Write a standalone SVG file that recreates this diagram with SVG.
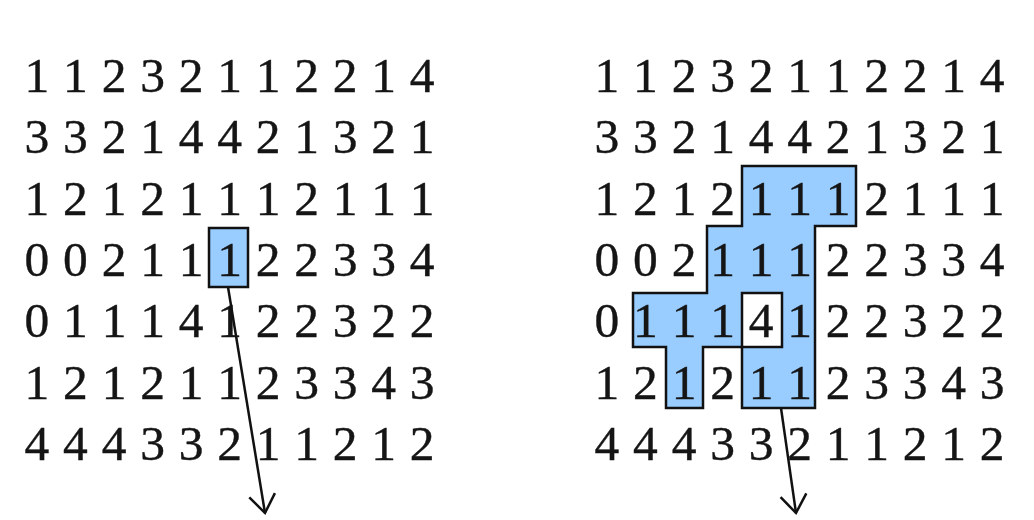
<svg xmlns="http://www.w3.org/2000/svg" width="1034" height="520" viewBox="0 0 1034 520">
<style>
.g{font-family:"Liberation Serif","Times New Roman",serif;font-size:49.5px;letter-spacing:0.7px;fill:#151515;stroke:#151515;stroke-width:0.4px}
.hl{fill:#99ccff;stroke:#111;stroke-width:2.5;stroke-linejoin:miter}
.hole{fill:#fff;stroke:#111;stroke-width:2.5}
.c{stroke:#111;stroke-width:2.5;fill:none}
</style>
<defs>
<marker id="arr" viewBox="-22 -15 24 30" refX="0" refY="0" markerWidth="24" markerHeight="30" orient="auto" markerUnits="userSpaceOnUse">
<path d="M-18,-13 L0,0 L-18,13" fill="none" stroke="#111" stroke-width="2.5"/>
</marker>
</defs>
<rect width="1034" height="520" fill="#fff"/>
<g id="left-grid">
<rect class="hl" x="209" y="228" width="39" height="59"/>
<text class="g" x="24.6" y="92">1 1 2 3 2 1 1 2 2 1 4</text>
<text class="g" x="24.6" y="153">3 3 2 1 4 4 2 1 3 2 1</text>
<text class="g" x="24.6" y="215">1 2 1 2 1 1 1 2 1 1 1</text>
<text class="g" x="24.6" y="276">0 0 2 1 1 1 2 2 3 3 4</text>
<text class="g" x="24.6" y="337">0 1 1 1 4 1 2 2 3 2 2</text>
<text class="g" x="24.6" y="399">1 2 1 2 1 1 2 3 3 4 3</text>
<text class="g" x="24.6" y="460">4 4 4 3 3 2 1 1 2 1 2</text>
</g>
<g id="right-grid">
<path class="hl" d="M742,166 L856,166 L856,226 L815,226 L815,408 L742,408 L742,347 L703,347 L703,408 L666,408 L666,347 L633,347 L633,293 L707,293 L707,226 L742,226 Z"/>
<rect class="hole" x="742" y="293" width="40" height="54"/>
<text class="g" x="594.6" y="92">1 1 2 3 2 1 1 2 2 1 4</text>
<text class="g" x="594.6" y="153">3 3 2 1 4 4 2 1 3 2 1</text>
<text class="g" x="594.6" y="215">1 2 1 2 1 1 1 2 1 1 1</text>
<text class="g" x="594.6" y="276">0 0 2 1 1 1 2 2 3 3 4</text>
<text class="g" x="594.6" y="337">0 1 1 1 4 1 2 2 3 2 2</text>
<text class="g" x="594.6" y="399">1 2 1 2 1 1 2 3 3 4 3</text>
<text class="g" x="594.6" y="460">4 4 4 3 3 2 1 1 2 1 2</text>
</g>
<g id="connectors">
<line class="c" x1="228" y1="287" x2="265" y2="513" marker-end="url(#arr)"/>
<line class="c" x1="781" y1="408" x2="796" y2="513" marker-end="url(#arr)"/>
</g>
</svg>
